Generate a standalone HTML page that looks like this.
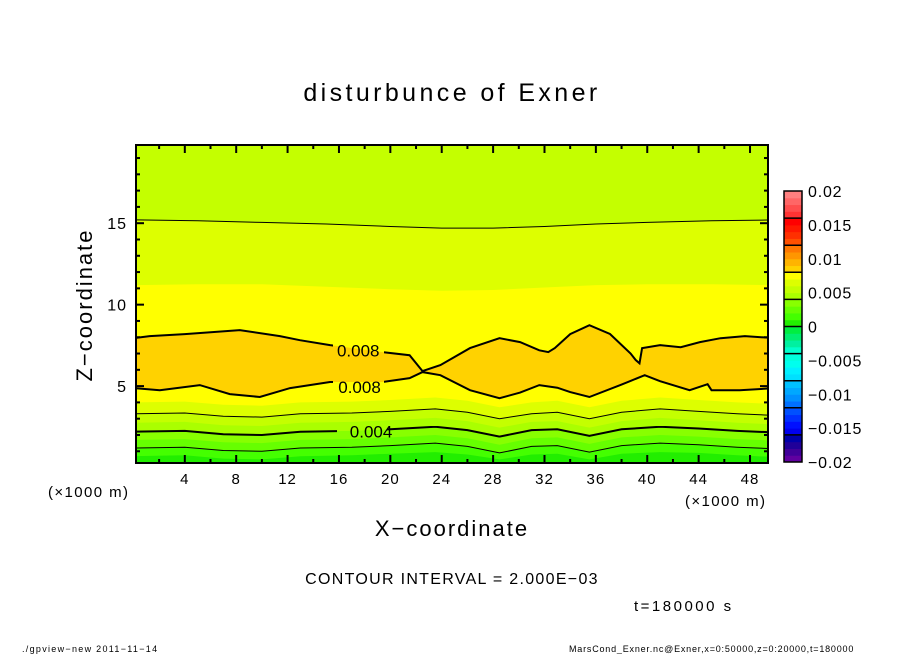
<!DOCTYPE html>
<html><head><meta charset="utf-8"><style>
html,body{margin:0;padding:0;background:#fff;}
svg{display:block;font-family:"Liberation Sans","DejaVu Sans",sans-serif;}
</style></head><body>
<svg id="chart" width="904" height="654" viewBox="0 0 904 654">
<text x="452" y="101" font-size="25" text-anchor="middle" letter-spacing="3.4">disturbunce of Exner</text>
<defs>
<clipPath id="pc"><rect x="136" y="145" width="632" height="318"/></clipPath>
<mask id="lm">
<rect x="0" y="0" width="904" height="654" fill="#fff"/>
<rect x="333" y="339" width="51" height="18" fill="#000"/>
<rect x="333" y="377" width="51" height="18" fill="#000"/>
<rect x="337" y="421" width="50" height="18" fill="#000"/>
</mask>
</defs>
<g id="plot" clip-path="url(#pc)"></g>
<g id="lines" clip-path="url(#pc)"></g>
<g id="labels"></g>
<rect x="136" y="145" width="632" height="318" fill="none" stroke="#000" stroke-width="2"/>
<g id="ticks"></g>
<g id="cbar"></g>
<text x="48" y="497" font-size="15" letter-spacing="1.4">(×1000 m)</text>
<text x="685" y="506" font-size="15" letter-spacing="1.4">(×1000 m)</text>
<text x="452" y="536" font-size="22" text-anchor="middle" letter-spacing="2">X−coordinate</text>
<text transform="translate(92,305) rotate(-90)" font-size="22" text-anchor="middle" letter-spacing="2">Z−coordinate</text>
<text x="452" y="584" font-size="16" text-anchor="middle" letter-spacing="1.3">CONTOUR INTERVAL = 2.000E−03</text>
<text x="634" y="611" font-size="15" letter-spacing="2.5">t=180000 s</text>
<text x="22" y="652" font-size="9" letter-spacing="1.3">./gpview−new   2011−11−14</text>
<text x="569" y="652" font-size="9" letter-spacing="0.8">MarsCond_Exner.nc@Exner,x=0:50000,z=0:20000,t=180000</text>
</svg>
<script>
const xsLow=[0,4,7,10,13,17,20,23.5,26,28.5,31,33,35.5,38,41,44,47,50];
const L7=[4.0,4.05,3.85,3.8,4.0,4.05,4.15,4.3,4.1,3.7,4.0,4.1,3.7,4.1,4.3,4.15,4.0,3.9];
const L6=[3.3,3.35,3.15,3.1,3.3,3.35,3.45,3.6,3.4,3.0,3.3,3.4,3.0,3.4,3.6,3.45,3.3,3.2];
const L5=[2.75,2.8,2.6,2.55,2.75,2.8,2.9,3.05,2.85,2.45,2.8,2.85,2.45,2.85,3.05,2.9,2.75,2.65];
const L4=[2.2,2.25,2.05,2.0,2.2,2.25,2.35,2.5,2.3,1.9,2.3,2.35,1.95,2.35,2.5,2.4,2.25,2.15];
const L3=[1.7,1.75,1.55,1.5,1.7,1.75,1.85,2.0,1.8,1.4,1.8,1.85,1.45,1.85,2.0,1.9,1.75,1.65];
const L2=[1.2,1.25,1.05,1.0,1.2,1.25,1.35,1.5,1.3,0.9,1.3,1.35,0.95,1.35,1.5,1.4,1.25,1.15];
const L1=[0.7,0.75,0.55,0.5,0.7,0.75,0.85,0.95,0.8,0.5,0.8,0.85,0.5,0.85,0.95,0.9,0.75,0.65];
const xsUp=[0,5,10,15,20,24,28,32,36,40,45,50];
const U6=[15.2,15.15,15.05,14.95,14.8,14.7,14.7,14.8,14.95,15.05,15.15,15.2];
const U7=[11.2,11.25,11.25,11.1,10.95,10.85,10.9,11.05,11.2,11.25,11.25,11.2];
const topX=[0,1.27,4,8.28,11.4,12.96,15.3,19.4,21.5,22.5,23.9,26.2,28.5,30.1,31.6,32.3,32.8,34,35.5,37.1,38.7,39.1,39.4,39.6,41,42.6,44.1,45.7,47.6,50];
const topZ=[7.94,8.07,8.19,8.44,8.07,7.82,7.52,7.09,6.9,5.92,6.29,7.33,7.94,7.7,7.2,7.09,7.33,8.19,8.74,8.2,7.0,6.6,6.4,7.33,7.52,7.39,7.7,7.94,8.07,7.94];
const botX=[0,2.05,5.17,7.5,9.84,12.2,15.3,19.4,21.5,22.5,23.9,26.2,28.5,30.1,31.6,33,34,35.5,37.9,39.8,41,43.3,44.7,45,47.2,50];
const botZ=[4.88,4.75,5.06,4.51,4.33,4.88,5.25,5.25,5.49,5.86,5.67,4.75,4.26,4.6,5.06,4.9,4.63,4.33,5.06,5.67,5.3,4.75,5.12,4.75,4.75,4.88];
const levelColors=['#22ee00','#44ff00','#66ff00','#88ff00','#aaff00','#c4ff00','#ddff00','#ffff00','#ffd200'];
const cbColors=['#6000a0','#400099','#200099','#0000aa','#0000ee','#0010ff','#0030ff','#0050ff','#0070ff','#0090ff','#00a8ff','#00c0ff','#00e0ff','#00f0ff','#00ffee','#00ffdd','#00ffcc','#00f0a0','#00ee70','#00ee40','#22ee00','#44ff00','#66ff00','#88ff00','#aaff00','#c4ff00','#ddff00','#ffff00','#ffd200','#ffb400','#ff9600','#ff7800','#ff5000','#ff3000','#ff1800','#ff0000','#ff3333','#ff4d4d','#ff6666','#ff8080'];
const cbTicks=['0.02','0.015','0.01','0.005','0','−0.005','−0.01','−0.015','−0.02'];
const xTickLabels=['4','8','12','16','20','24','28','32','36','40','44','48'];
const yTickLabels=['5','10','15'];
const contourLabels=[['0.008',17.5,7.2],['0.008',17.6,4.95],['0.004',18.5,2.2]];

const NS='http://www.w3.org/2000/svg';
const X=v=>136+(v-0.2)*(632/49.2);
const Z=v=>463-(v-0.28)*(318/19.52);
function mk(tag,parent,attrs){const e=document.createElementNS(NS,tag);for(const k in attrs)e.setAttribute(k,attrs[k]);parent.appendChild(e);return e;}
function pts(xs,zs){return xs.map((x,i)=>X(x).toFixed(1)+','+Z(zs[i]).toFixed(1));}
const plot=document.getElementById('plot');
let r=mk('rect',plot,{x:136,y:145,width:632,height:318,fill:levelColors[5]});


function below(xs,zs,col,name){const p=pts(xs,zs);p.unshift(X(-1)+','+Z(zs[0]));p.push(X(51)+','+Z(zs[zs.length-1]));p.push(X(51)+',480');p.push(X(-1)+',480');
const e=mk('polygon',plot,{points:p.join(' '),fill:col});

}
below(xsUp,U6,levelColors[6],'band-0.006-0.007-upper');
below(xsUp,U7,levelColors[7],'band-0.007-0.008');
const op=pts(topX,topZ).concat(pts(botX,botZ).reverse());
const orange=mk('polygon',plot,{points:op.join(' '),fill:levelColors[8]});


below(xsLow,L7,levelColors[6],'band-0.006-0.007');
below(xsLow,L6,levelColors[5],'band-0.005-0.006');
below(xsLow,L5,levelColors[4],'band-0.004-0.005');
below(xsLow,L4,levelColors[3],'band-0.003-0.004');
below(xsLow,L3,levelColors[2],'band-0.002-0.003');
below(xsLow,L2,levelColors[1],'band-0.001-0.002');
below(xsLow,L1,levelColors[0],'band-0-0.001');

const lines=document.getElementById('lines');
function line(xs,zs,w,name){const e=mk('polyline',lines,{points:pts(xs,zs).join(' '),fill:'none',stroke:'#000','stroke-width':w,mask:'url(#lm)'});

}
line(xsUp,U6,1,'contour-0.006-upper');
line(topX,topZ,2,'contour-0.008-upper');
line(botX,botZ,2,'contour-0.008-lower');
line(xsLow,L6,1,'contour-0.006');
line(xsLow,L4,2,'contour-0.004');
line(xsLow,L2,1,'contour-0.002');

const lab=document.getElementById('labels');
contourLabels.forEach(c=>{const t=mk('text',lab,{x:X(c[1]),y:Z(c[2])+6,'font-size':17,'text-anchor':'middle'});t.textContent=c[0];

});

const tk=document.getElementById('ticks');
for(let v=2;v<=48;v+=2){const L=(v%4===0)?8:4;
mk('line',tk,{x1:X(v),x2:X(v),y1:463,y2:463-L,stroke:'#000','stroke-width':2});
mk('line',tk,{x1:X(v),x2:X(v),y1:145,y2:145+L,stroke:'#000','stroke-width':2});}
for(let v=1;v<=19;v++){const L=(v%5===0)?8:4;
mk('line',tk,{x1:136,x2:136+L,y1:Z(v),y2:Z(v),stroke:'#000','stroke-width':2});
mk('line',tk,{x1:768,x2:768-L,y1:Z(v),y2:Z(v),stroke:'#000','stroke-width':2});}
xTickLabels.forEach(s=>{const t=mk('text',tk,{x:X(+s),y:484,'font-size':15,'text-anchor':'middle','letter-spacing':1});t.textContent=s;

});
yTickLabels.forEach(s=>{const t=mk('text',tk,{x:127,y:Z(+s)+6,'font-size':16,'text-anchor':'end','letter-spacing':1});t.textContent=s;

});

const cb=document.getElementById('cbar');
const cbTop=191,cbBot=462,cbH=(cbBot-cbTop)/cbColors.length;
cbColors.forEach((c,i)=>{const y=cbBot-(i+1)*cbH;const e=mk('rect',cb,{x:784,y:y.toFixed(2),width:18,height:(cbH+0.5).toFixed(2),fill:c});

});
for(let g=1;g<10;g++){const y=cbBot-g*4*cbH;mk('line',cb,{x1:784,x2:802,y1:y,y2:y,stroke:'#000','stroke-width':1.5});}
mk('rect',cb,{x:784,y:cbTop,width:18,height:cbBot-cbTop,fill:'none',stroke:'#000','stroke-width':1.5});
cbTicks.forEach((s,i)=>{const y=cbTop+i*(cbBot-cbTop)/8;const t=mk('text',cb,{x:808,y:y+6,'font-size':16,'letter-spacing':0.8});t.textContent=s;

});
</script>
</body></html>
